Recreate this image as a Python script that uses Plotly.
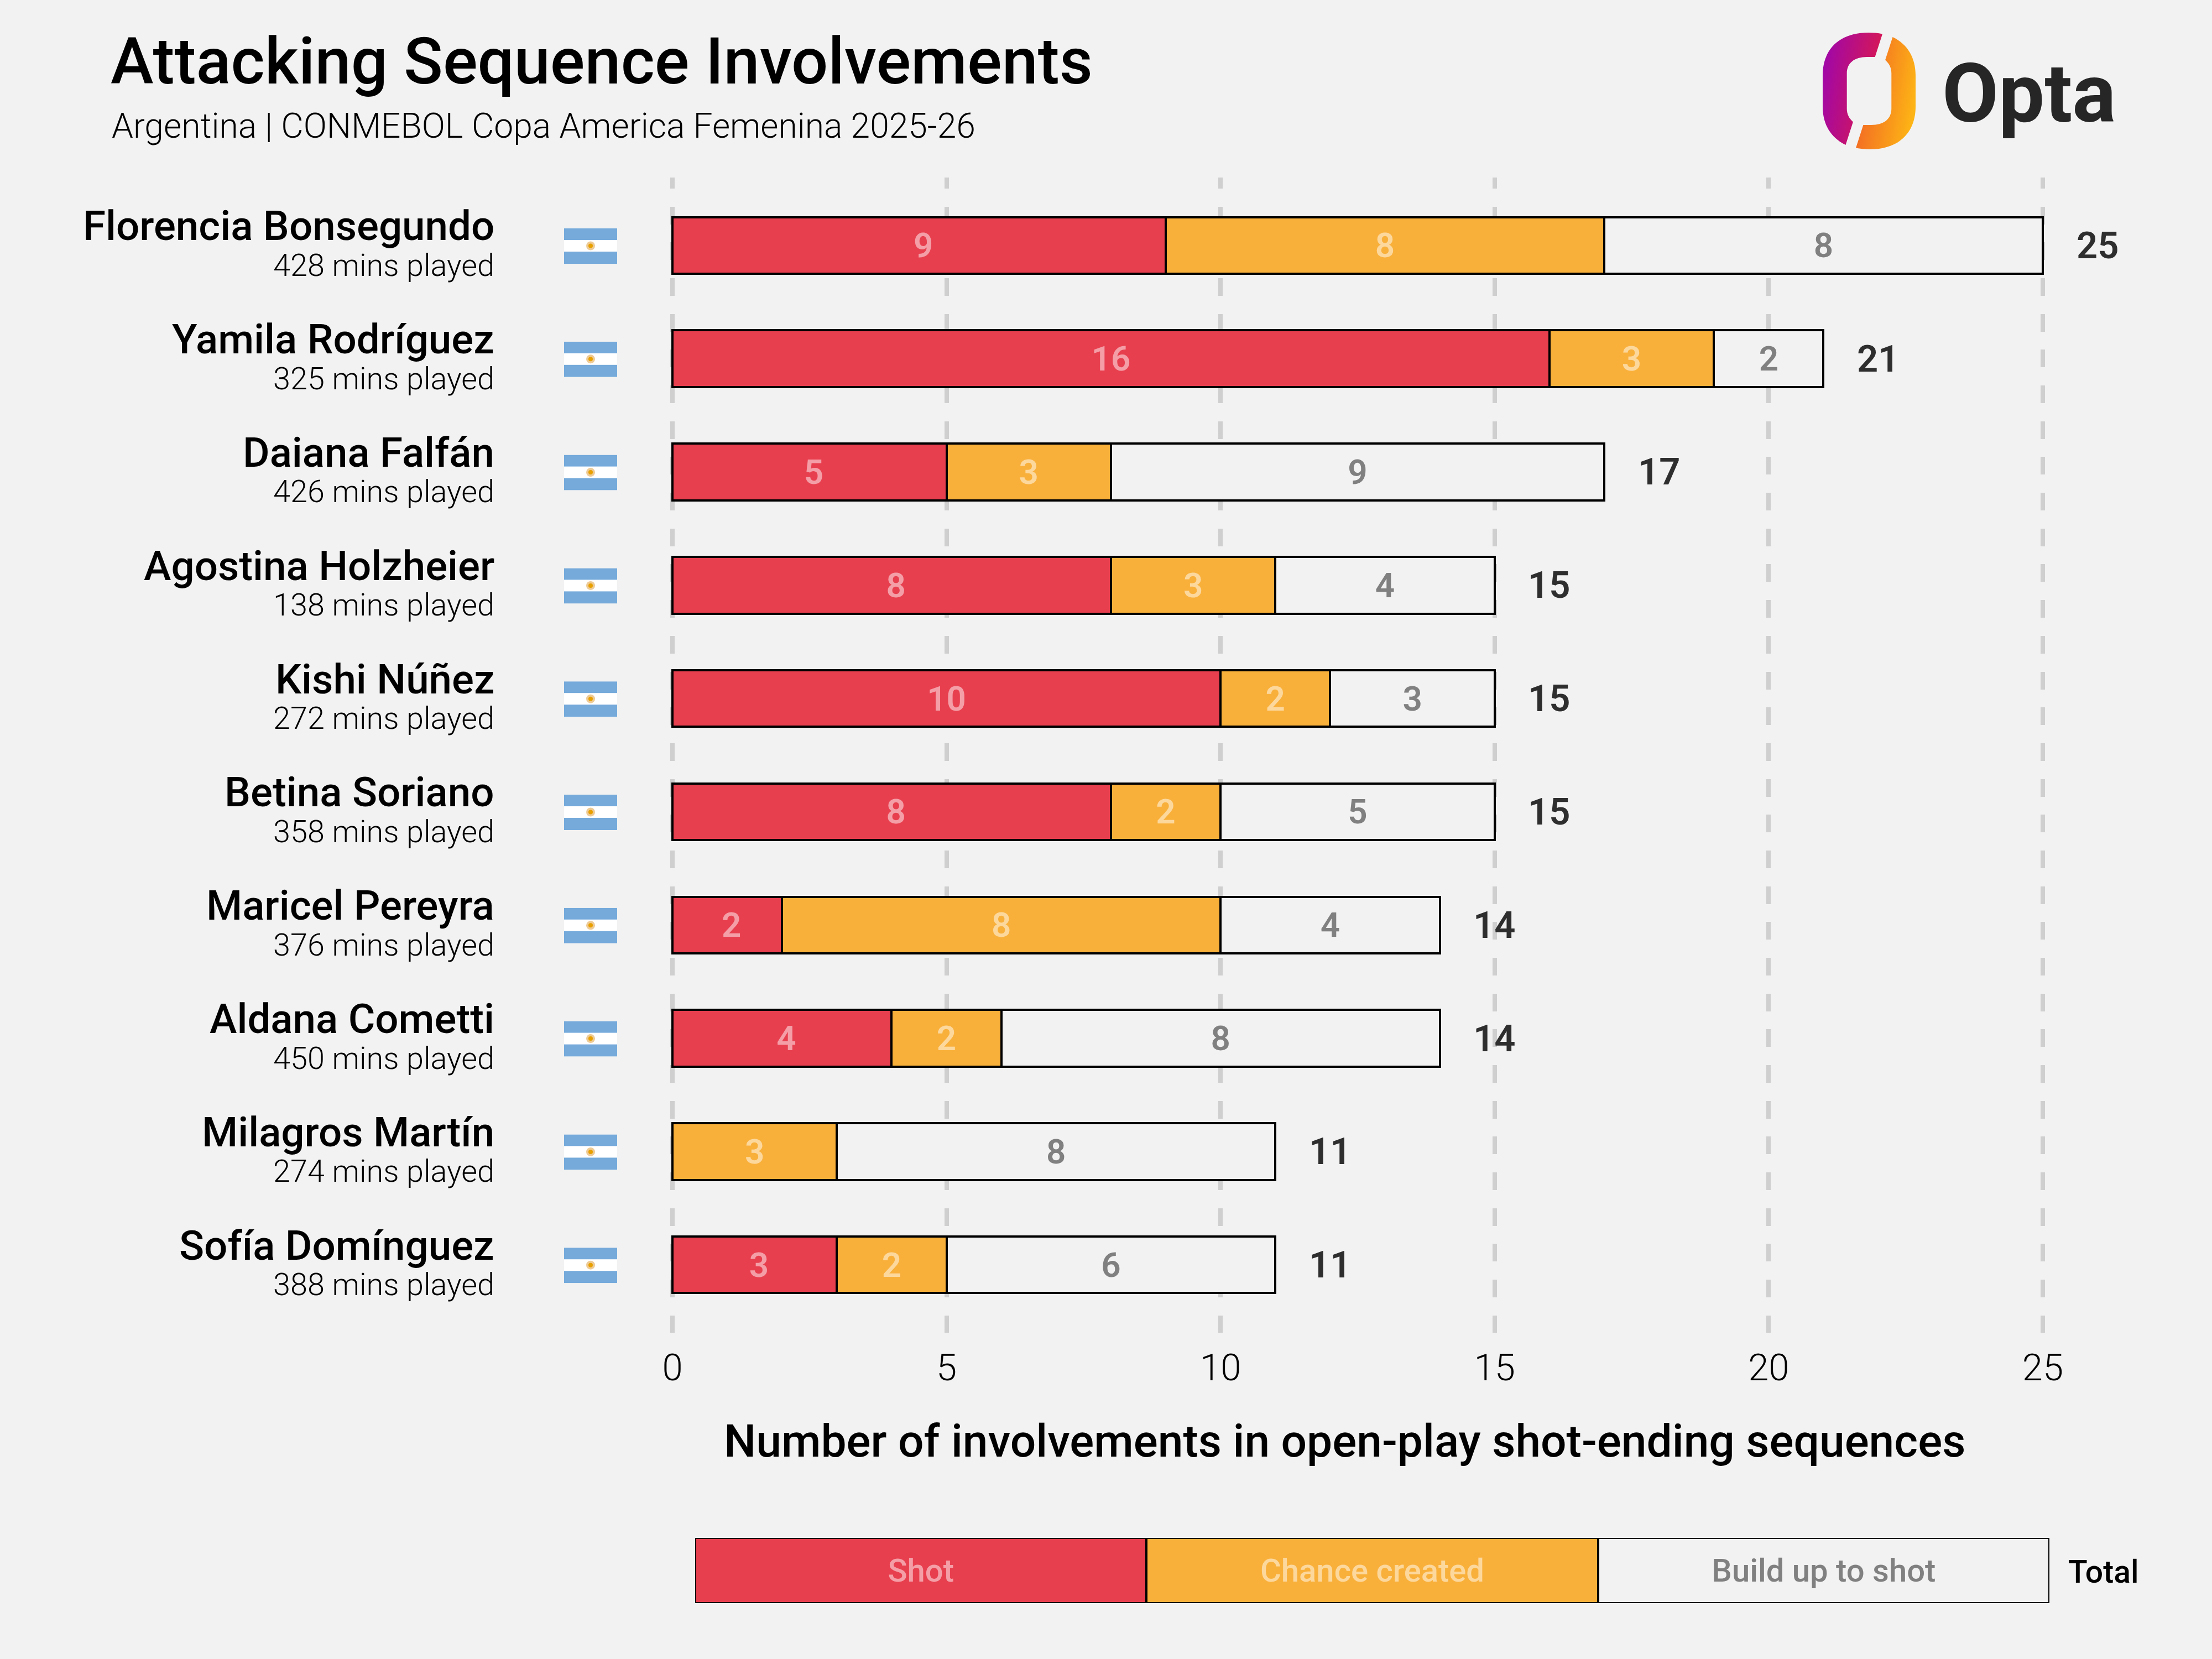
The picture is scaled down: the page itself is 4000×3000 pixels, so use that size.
import base64
import plotly.graph_objects as go

players = ["Florencia Bonsegundo", "Yamila Rodríguez", "Daiana Falfán", "Agostina Holzheier", "Kishi Núñez",
           "Betina Soriano", "Maricel Pereyra", "Aldana Cometti", "Milagros Martín", "Sofía Domínguez"]
minutes = [428, 325, 426, 138, 272, 358, 376, 450, 274, 388]
shot = [9, 16, 5, 8, 10, 8, 2, 4, 0, 3]
chance = [8, 3, 3, 3, 2, 2, 8, 2, 3, 2]
buildup = [8, 2, 9, 4, 3, 5, 4, 8, 8, 6]
totals = [25, 21, 17, 15, 15, 15, 14, 14, 11, 11]
x_ticks = [0, 5, 10, 15, 20, 25]
legend_labels = ["Shot", "Chance created", "Build up to shot"]
legend_values = [1, 1, 1]

W, H = 4000, 3000
BG = "#F2F2F2"
RED, ORANGE = "#E83F4F", "#F9B03B"
FONT = "Roboto"


def uri(svg):
    return "data:image/svg+xml;base64," + base64.b64encode(svg.encode()).decode()


flag_svg = uri('<svg xmlns="http://www.w3.org/2000/svg" viewBox="0 0 96 64" preserveAspectRatio="none">'
               '<rect width="96" height="64" fill="#75AADB"/><rect y="21" width="96" height="21" fill="#FFFFFF"/>'
               '<circle cx="48" cy="31.5" r="8" fill="#E0A040" opacity="0.55"/>'
               '<circle cx="48" cy="31.5" r="4" fill="#E8A000"/></svg>')
LEFT = ("M108,2.4 C100,0.8 92,0 82.6,0 C30,0 0,30 0,77.4 L0,134 C0,165 14,190 41.5,203 L54.9,161.4 "
        "C48,155 43.7,148 43.7,137.4 L43.7,74 C43.7,55 57,44 80.3,44 L94.6,44 Z")
logo_svg = uri('<svg xmlns="http://www.w3.org/2000/svg" viewBox="0 0 168 211" preserveAspectRatio="none">'
               '<defs><linearGradient id="a" x1="0" y1="0.3" x2="1" y2="0.6">'
               '<stop offset="0" stop-color="#A007A8"/><stop offset="1" stop-color="#DE1A4A"/></linearGradient>'
               '<linearGradient id="b" x1="0" y1="0.4" x2="1" y2="0.7">'
               '<stop offset="0" stop-color="#FDB515"/><stop offset="1" stop-color="#F15F26"/></linearGradient></defs>'
               f'<path d="{LEFT}" fill="url(#a)"/>'
               f'<path d="{LEFT}" fill="url(#b)" transform="rotate(180 84 105.5)"/></svg>')

fig = go.Figure()
line = dict(color="#000000", width=4)
shot_text = [("\u00a0" + str(v)) if 0 < v < 10 else (str(v) if v else "") for v in shot]
for vals, labels, color, tcolor, name in [
        (shot, shot_text, RED, "rgba(255,255,255,0.5)", legend_labels[0]),
        (chance, [str(v) for v in chance], ORANGE, "rgba(255,255,255,0.5)", legend_labels[1]),
        (buildup, [str(v) for v in buildup], BG, "#808080", legend_labels[2])]:
    fig.add_trace(go.Bar(y=players, x=vals, orientation="h", width=0.5, name=name,
                         marker=dict(color=color, line=line),
                         text=labels, textposition="inside",
                         insidetextanchor="middle", constraintext="none", textangle=0,
                         textfont=dict(family=FONT, size=62, color=tcolor, weight=600),
                         cliponaxis=False, showlegend=False))

for lab, val, color, tcolor in zip(legend_labels, legend_values, [RED, ORANGE, BG],
                                   ["rgba(255,255,255,0.5)", "rgba(255,255,255,0.5)", "#808080"]):
    fig.add_trace(go.Bar(y=["key"], x=[val], orientation="h", width=1, xaxis="x2", yaxis="y2",
                         marker=dict(color=color, line=line), text=[lab], textposition="inside",
                         insidetextanchor="middle", constraintext="none", textangle=0,
                         textfont=dict(family=FONT, size=58, color=tcolor, weight=500),
                         cliponaxis=False, showlegend=False))

annotations = []
for p, m, t in zip(players, minutes, totals):
    annotations.append(dict(x=0, y=p, xref="x", yref="y", xshift=-320, yshift=35, xanchor="right", yanchor="middle",
                            text=p, showarrow=False, font=dict(family=FONT, size=74.5, color="#000000", weight=500)))
    annotations.append(dict(x=0, y=p, xref="x", yref="y", xshift=-320, yshift=-36, xanchor="right", yanchor="middle",
                            text=f"{m} mins played", showarrow=False,
                            font=dict(family=FONT, size=55.8, color="#000000", weight=300)))
    annotations.append(dict(x=t + 1, y=p, xref="x", yref="y", xanchor="center", yanchor="middle", text=str(t),
                            showarrow=False, font=dict(family=FONT, size=67, color="#2E2E2E", weight=600)))


def note(x, y, text, size, weight, anchor="left", color="#000000"):
    annotations.append(dict(x=x / W, y=1 - y / H, xref="paper", yref="paper", xanchor=anchor, yanchor="middle",
                            text=text, showarrow=False, font=dict(family=FONT, size=size, color=color, weight=weight)))


note(200, 228, "Argentina | CONMEBOL Copa America Femenina 2025-26", 62.3, 300)
note(2431, 2606, "Number of involvements in open-play shot-ending sequences", 82.1, 500, "center")
note(3803, 2842, "Total", 57, 500, "center")
note(3510, 170, "Opta", 148, 700, "left", "#262626")

images = [dict(source=flag_svg, xref="paper", yref="paper", x=1020 / W, y=1 - (445 + i * 204.8) / H,
               sizex=96 / W, sizey=64 / H, xanchor="left", yanchor="middle", sizing="stretch", layer="above")
          for i in range(len(players))]
images.append(dict(source=logo_svg, xref="paper", yref="paper", x=3296 / W, y=1 - 59 / H, sizex=168 / W, sizey=211 / H,
                   xanchor="left", yanchor="top", sizing="stretch", layer="above"))

grid_dash = "20px,32.68px," + ",".join(["32px,32.68px"] * 32)

fig.update_layout(
    width=W, height=H, margin=dict(l=0, r=0, t=0, b=0, autoexpand=False), paper_bgcolor=BG, plot_bgcolor=BG,
    barmode="stack", bargap=0.5, showlegend=False,
    title=dict(text="Attacking Sequence Involvements", x=200 / W, xanchor="left", xref="paper",
               y=1 - 110 / H, yanchor="middle", yref="paper",
               font=dict(family=FONT, size=117, color="#000000", weight=500)),
    xaxis=dict(domain=[1211 / W, 3892.2 / W], range=[-0.05, 27], tickvals=x_ticks, ticktext=[str(t) for t in x_ticks],
               showgrid=True, gridcolor="#CFCFCF", gridwidth=8, griddash=grid_dash, zeroline=False, showline=False,
               ticks="outside", ticklen=5, tickcolor="rgba(0,0,0,0)", automargin=False, anchor="y",
               tickfont=dict(family=FONT, size=67, color="#000000", weight=300)),
    yaxis=dict(domain=[1 - 2410 / H, 1 - 321 / H], type="category", range=[9.6, -0.6], categoryorder="array",
               categoryarray=players, showticklabels=False, showgrid=False, zeroline=False, ticks="", anchor="x",
               automargin=False),
    xaxis2=dict(domain=[1257 / W, 3706 / W], range=[0, 3], visible=False, anchor="y2", automargin=False),
    yaxis2=dict(domain=[1 - 2899 / H, 1 - 2781 / H], range=[-0.5, 0.5], visible=False, anchor="x2", automargin=False),
    annotations=annotations, images=images,
)
fig.write_html("out.html", config=dict(displayModeBar=False),
               post_script="document.body.style.margin='0';document.body.style.background='#F2F2F2';")
